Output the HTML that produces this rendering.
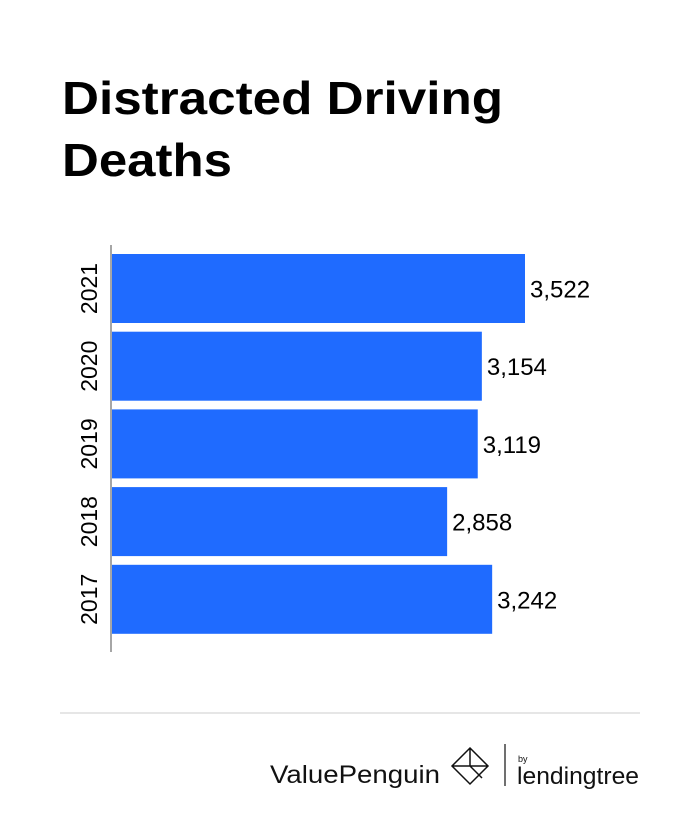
<!DOCTYPE html>
<html><head><meta charset="utf-8"><style>
body{margin:0;width:700px;height:822px;background:#fff;font-family:"Liberation Sans",sans-serif;overflow:hidden}
</style></head><body>
<svg width="700" height="822">
<text x="62" y="114" font-size="46" font-weight="bold" fill="#000" textLength="441" lengthAdjust="spacingAndGlyphs">Distracted Driving</text>
<text x="62" y="176" font-size="46" font-weight="bold" fill="#000" textLength="170" lengthAdjust="spacingAndGlyphs">Deaths</text>
<g id="bars"></g>
<line x1="111" y1="245" x2="111" y2="652" stroke="#888" stroke-width="1.5"/>
<line x1="60" y1="713" x2="640" y2="713" stroke="#ddd" stroke-width="1.5"/>
<g>
<text x="270" y="783" font-size="25" fill="#111" textLength="170" lengthAdjust="spacingAndGlyphs">ValuePenguin</text>
<path d="M470 748 L488 766 L470 784 L452 766 Z M470 748 L470 766 L488 766 M470 766 L452 766 M470 766 L482 778" fill="none" stroke="#111" stroke-width="1.5"/>
</g>
<line x1="505" y1="744" x2="505" y2="786" stroke="#111" stroke-width="1.2"/>
<g>
<text x="518" y="762" font-size="9" fill="#111">by</text>
<text x="517" y="784" font-size="24" fill="#111" textLength="122" lengthAdjust="spacingAndGlyphs">lendingtree</text>
</g>
</svg>
<script>
const categories=["2021","2020","2019","2018","2017"];
const values=[3522,3154,3119,2858,3242];
const labels=["3,522","3,154","3,119","2,858","3,242"];
const x0=112,scale=(525-112)/3522;
const xs=v=>x0+v*scale;
const yTop=254,step=77.7,bh=69;
const g=document.getElementById('bars');
const ns="http://www.w3.org/2000/svg";
categories.forEach((c,i)=>{
 const y=yTop+i*step;
 const r=document.createElementNS(ns,'rect');
 r.setAttribute('x',x0);r.setAttribute('y',y);r.setAttribute('width',xs(values[i])-x0);r.setAttribute('height',bh);r.setAttribute('fill','#1f6bff');
 
 
 g.appendChild(r);
 const t=document.createElementNS(ns,'text');
 t.setAttribute('x',xs(values[i])+5);t.setAttribute('y',y+bh/2+9);t.setAttribute('font-size','24');t.textContent=labels[i];
 
 
 g.appendChild(t);
 const l=document.createElementNS(ns,'text');
 const cy=y+bh/2;
 l.setAttribute('x',97);l.setAttribute('y',cy);l.setAttribute('font-size','23');l.setAttribute('text-anchor','middle');
 l.setAttribute('transform','rotate(-90 97 '+cy+')');l.textContent=c;
 
 
 g.appendChild(l);
});
</script>
</body></html>
